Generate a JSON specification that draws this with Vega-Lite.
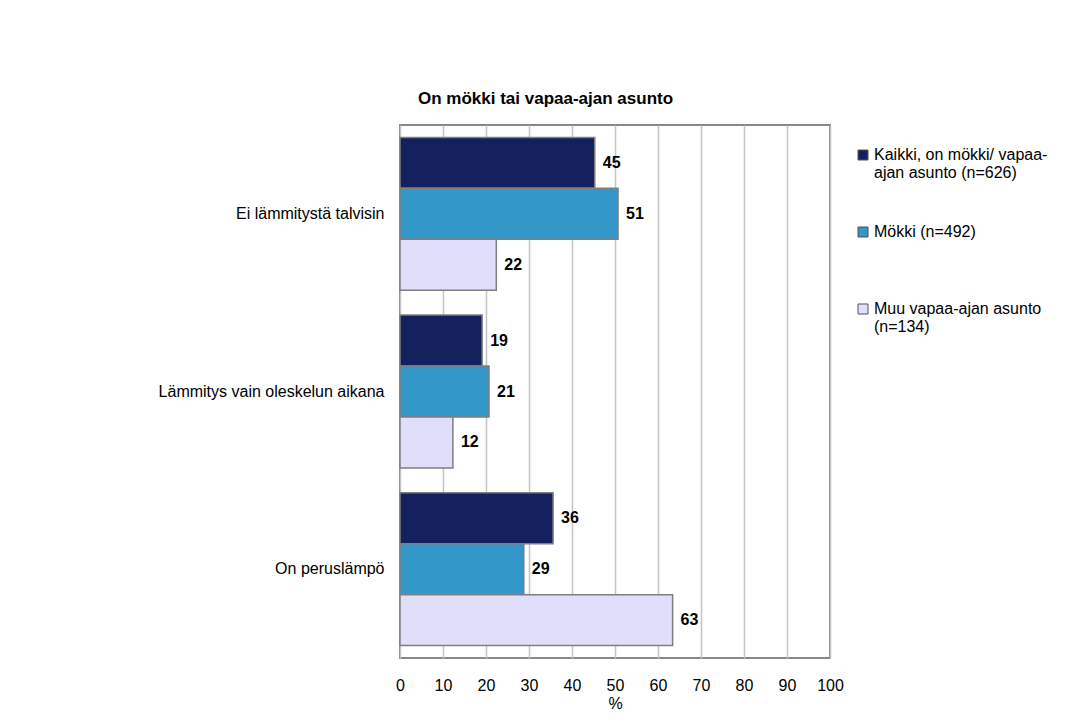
{
  "$schema": "https://vega.github.io/schema/vega-lite/v6.json",
  "width": 430,
  "height": 533,
  "autosize": {"type": "none"},
  "padding": {"left": 400, "top": 125, "right": 257, "bottom": 69},
  "background": "white",
  "config": {
    "font": "Liberation Sans",
    "view": {"stroke": "#888888", "strokeWidth": 2}
  },
  "title": {
    "text": "On mökki tai vapaa-ajan asunto",
    "anchor": "start",
    "frame": "group",
    "dx": 18,
    "offset": 17,
    "fontSize": 17,
    "fontWeight": "bold",
    "color": "black"
  },
  "data": {
    "values": [
      {"kategoria": "Ei lämmitystä talvisin", "ryhmä": "Kaikki, on mökki/ vapaa-ajan asunto (n=626)", "arvo": 45.3},
      {"kategoria": "Ei lämmitystä talvisin", "ryhmä": "Mökki (n=492)", "arvo": 50.7},
      {"kategoria": "Ei lämmitystä talvisin", "ryhmä": "Muu vapaa-ajan asunto (n=134)", "arvo": 22.4},
      {"kategoria": "Lämmitys vain oleskelun aikana", "ryhmä": "Kaikki, on mökki/ vapaa-ajan asunto (n=626)", "arvo": 19.1},
      {"kategoria": "Lämmitys vain oleskelun aikana", "ryhmä": "Mökki (n=492)", "arvo": 20.7},
      {"kategoria": "Lämmitys vain oleskelun aikana", "ryhmä": "Muu vapaa-ajan asunto (n=134)", "arvo": 12.3},
      {"kategoria": "On peruslämpö", "ryhmä": "Kaikki, on mökki/ vapaa-ajan asunto (n=626)", "arvo": 35.6},
      {"kategoria": "On peruslämpö", "ryhmä": "Mökki (n=492)", "arvo": 28.8},
      {"kategoria": "On peruslämpö", "ryhmä": "Muu vapaa-ajan asunto (n=134)", "arvo": 63.4}
    ]
  },
  "encoding": {
    "y": {
      "field": "kategoria",
      "type": "nominal",
      "sort": null,
      "scale": {"paddingInner": 0.14, "paddingOuter": 0.07},
      "axis": {
        "title": null,
        "domain": false,
        "ticks": false,
        "labelFontSize": 16,
        "labelColor": "black",
        "labelPadding": 16,
        "labelLimit": 400
      }
    },
    "yOffset": {
      "field": "ryhmä",
      "type": "nominal",
      "sort": null,
      "scale": {"paddingInner": 0, "paddingOuter": 0}
    },
    "x": {
      "field": "arvo",
      "type": "quantitative",
      "scale": {"domain": [0, 100], "nice": false},
      "axis": {
        "title": "%",
        "titleFontSize": 16,
        "titleFontWeight": "normal",
        "titleColor": "black",
        "titlePadding": 2,
        "values": [0, 10, 20, 30, 40, 50, 60, 70, 80, 90, 100],
        "labelFontSize": 16,
        "labelColor": "black",
        "labelPadding": 19,
        "labelFlush": false,
        "ticks": false,
        "domain": false,
        "grid": true,
        "gridColor": "#c4c4c4",
        "gridWidth": 1.5
      }
    }
  },
  "layer": [
    {
      "mark": {"type": "bar", "stroke": "#7f7f7f", "strokeWidth": 1.5},
      "encoding": {
        "color": {
          "field": "ryhmä",
          "type": "nominal",
          "sort": null,
          "scale": {
            "domain": ["Kaikki, on mökki/ vapaa-ajan asunto (n=626)", "Mökki (n=492)", "Muu vapaa-ajan asunto (n=134)"],
            "range": ["#15215f", "#3296c8", "#e0defa"]
          },
          "legend": {
            "title": null,
            "orient": "none",
            "legendX": 455,
            "legendY": 22,
            "symbolType": "square",
            "symbolSize": 100,
            "symbolStrokeColor": "#555555",
            "symbolStrokeWidth": 1,
            "labelFontSize": 16,
            "labelColor": "black",
            "labelOffset": 3,
            "labelLimit": 300,
            "rowPadding": 43,
            "labelExpr": "datum.label == 'Kaikki, on mökki/ vapaa-ajan asunto (n=626)' ? ['Kaikki, on mökki/ vapaa-', 'ajan asunto (n=626)'] : datum.label == 'Muu vapaa-ajan asunto (n=134)' ? ['Muu vapaa-ajan asunto', '(n=134)'] : [datum.label, '']"
          }
        }
      }
    },
    {
      "mark": {"type": "text", "align": "left", "dx": 8, "fontSize": 16, "fontWeight": "bold", "color": "black"},
      "encoding": {
        "text": {"field": "arvo", "type": "quantitative", "format": ".0f"}
      }
    }
  ]
}
